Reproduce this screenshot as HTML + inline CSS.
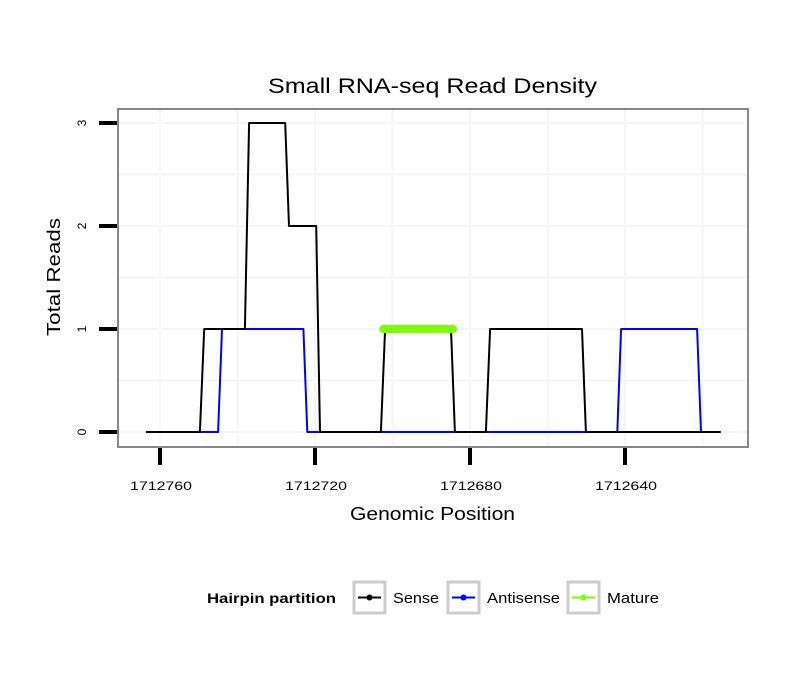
<!DOCTYPE html>
<html><head><meta charset="utf-8"><style>
body{margin:0;background:#fff;}
svg{display:block;font-family:"Liberation Sans",sans-serif;}
</style></head><body>
<svg id="chart" width="810" height="690" xmlns="http://www.w3.org/2000/svg">
<rect x="0" y="0" width="810" height="690" fill="#fff"/>
<text x="268" y="93" font-size="21" textLength="329" lengthAdjust="spacingAndGlyphs">Small RNA-seq Read Density</text>
<rect x="118" y="109" width="630" height="338" fill="#fff"/>
<g id="grid"></g>
<g id="series"></g>
<rect x="118" y="109" width="630" height="338" fill="none" stroke="#888" stroke-width="2"/>
<g id="axes"></g>
<text x="350" y="520" font-size="18" textLength="165" lengthAdjust="spacingAndGlyphs">Genomic Position</text>
<text transform="translate(60,336) rotate(-90)" font-size="18" textLength="118" lengthAdjust="spacingAndGlyphs">Total Reads</text>
<g>
<text x="207" y="603" font-size="14" font-weight="bold" textLength="129" lengthAdjust="spacingAndGlyphs">Hairpin partition</text>
<g>
<rect x="354" y="582" width="31" height="31" fill="#fff" stroke="#ccc" stroke-width="3"/>
<line x1="358" y1="597.5" x2="381" y2="597.5" stroke="#000" stroke-width="2"/><circle cx="369.5" cy="597.5" r="3" fill="#000"/>
<text x="393" y="603" font-size="15" textLength="46" lengthAdjust="spacingAndGlyphs">Sense</text></g>
<g>
<rect x="448" y="582" width="31" height="31" fill="#fff" stroke="#ccc" stroke-width="3"/>
<line x1="452" y1="597.5" x2="475" y2="597.5" stroke="#0000ff" stroke-width="2"/><circle cx="463.5" cy="597.5" r="3" fill="#0000ff"/>
<text x="487" y="603" font-size="15" textLength="73" lengthAdjust="spacingAndGlyphs">Antisense</text></g>
<g>
<rect x="568" y="582" width="31" height="31" fill="#fff" stroke="#ccc" stroke-width="3"/>
<line x1="572" y1="597.5" x2="595" y2="597.5" stroke="#7fff00" stroke-width="2"/><circle cx="583.5" cy="597.5" r="3" fill="#7fff00"/>
<text x="607" y="603" font-size="15" textLength="52" lengthAdjust="spacingAndGlyphs">Mature</text></g>
</g>
</svg>
<script>
const xTicks = [1712760, 1712720, 1712680, 1712640];
const yTicks = [0, 1, 2, 3];
const senseX = [1712763.4, 1712749.7, 1712748.6, 1712738.1, 1712737.0, 1712727.7, 1712726.7, 1712719.7, 1712718.7, 1712703.0, 1712701.9, 1712684.9, 1712683.9, 1712675.9, 1712674.8, 1712651.1, 1712650.1, 1712615.5];
const senseY = [0, 0, 1, 1, 3, 3, 2, 2, 0, 0, 1, 1, 0, 0, 1, 1, 0, 0];
const antiX = [1712763.4, 1712745.0, 1712744.0, 1712723.0, 1712722.0, 1712642.0, 1712641.0, 1712621.4, 1712620.4, 1712615.5];
const antiY = [0, 0, 1, 1, 0, 0, 1, 1, 0, 0];
const matureX = [1712702.4, 1712684.4];
const matureY = [1, 1];

const NS = "http://www.w3.org/2000/svg";
function sx(v){ return 160 + (1712760 - v) * 3.875; }
function sy(v){ return 432 - v * 103; }
function mk(tag, attrs, parent){ const e=document.createElementNS(NS,tag); for(const k in attrs) e.setAttribute(k,attrs[k]); parent.appendChild(e); return e; }

const grid=document.getElementById('grid'), axes=document.getElementById('axes'), series=document.getElementById('series');
xTicks.forEach((t,i)=>{
  const x=sx(t);
  let g=mk('line',{x1:x,x2:x,y1:110,y2:446,stroke:'#f6f6f6','stroke-width':2},grid);
  
  
  const xm=sx(t-20);
  let gm=mk('line',{x1:xm,x2:xm,y1:110,y2:446,stroke:'#f6f6f6','stroke-width':2},grid);
  
  
  let tk=mk('line',{x1:x,x2:x,y1:448,y2:465,stroke:'#000','stroke-width':4},axes);
  
  
  let lb=mk('text',{x:x-30,y:490,'font-size':12,textLength:62,lengthAdjust:'spacingAndGlyphs'},axes);
  lb.textContent=t;
  
  
});
yTicks.forEach(t=>{
  const y=sy(t);
  let g=mk('line',{x1:119,x2:747,y1:y,y2:y,stroke:'#f6f6f6','stroke-width':2},grid);
  
  
  if(t<3){ const ym=sy(t+0.5);
    let gm=mk('line',{x1:119,x2:747,y1:ym,y2:ym,stroke:'#f6f6f6','stroke-width':2},grid);
    
     }
  let tk=mk('line',{x1:99,x2:117,y1:y,y2:y,stroke:'#000','stroke-width':4},axes);
  
  
  let lb=mk('text',{transform:`translate(86,${y}) rotate(-90)`,'text-anchor':'middle','font-size':12},axes);
  lb.textContent=t;
  
  
});
function path(xs,ys,color,w,name){
  const d=xs.map((v,i)=>(i?'L':'M')+sx(v).toFixed(1)+','+sy(ys[i]).toFixed(1)).join(' ');
  const p=mk('path',{d:d,fill:'none',stroke:color,'stroke-width':w,'stroke-linejoin':'round','stroke-linecap':'round'},series);
  
  
  return p;
}
path(antiX,antiY,'#0000ff',2,'antisense-line');
path(senseX,senseY,'#000',2,'sense-line');
path(matureX,matureY,'#7fff00',8,'mature-line');
</script>
</body></html>
